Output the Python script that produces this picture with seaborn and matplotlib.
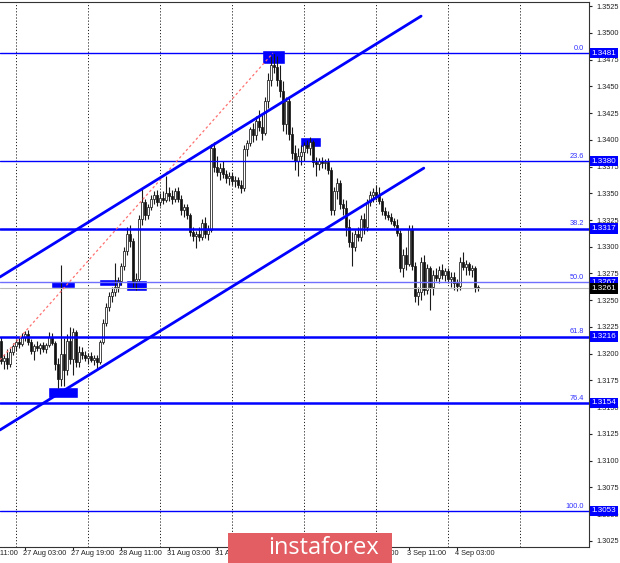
import matplotlib
matplotlib.use("Agg")
import matplotlib.pyplot as plt
import seaborn as sns
import numpy as np
import pandas as pd
from matplotlib.patches import Rectangle

# hourly bars, bar 0 = 26 Aug 19:00
bar_open = [
    1.3212, 1.3193, 1.3196, 1.3190, 1.3202, 1.3207, 1.3211, 1.3209, 1.3216, 1.3218,
    1.3211, 1.3203, 1.3207, 1.3205, 1.3208, 1.3204, 1.3208, 1.3216, 1.3210, 1.3190,
    1.3176, 1.3200, 1.3185, 1.3212, 1.3195, 1.3220, 1.3192, 1.3202, 1.3199, 1.3196,
    1.3198, 1.3194, 1.3196, 1.3192, 1.3211, 1.3229, 1.3244, 1.3254, 1.3258, 1.3262,
    1.3268, 1.3282, 1.3296, 1.3312, 1.3305, 1.3268, 1.3270, 1.3326, 1.3342, 1.3330,
    1.3337, 1.3345, 1.3348, 1.3342, 1.3346, 1.3344, 1.3350, 1.3347, 1.3345, 1.3352,
    1.3345, 1.3334, 1.3337, 1.3330, 1.3314, 1.3310, 1.3312, 1.3309, 1.3322, 1.3312,
    1.3316, 1.3392, 1.3375, 1.3370, 1.3374, 1.3368, 1.3364, 1.3366, 1.3361, 1.3362,
    1.3358, 1.3355, 1.3391, 1.3397, 1.3410, 1.3404, 1.3418, 1.3412, 1.3406, 1.3436,
    1.3456, 1.3470, 1.3468, 1.3456, 1.3446, 1.3415, 1.3436, 1.3405, 1.3388, 1.3380,
    1.3385, 1.3389, 1.3395, 1.3392, 1.3398, 1.3379, 1.3377, 1.3380, 1.3378, 1.3379,
    1.3372, 1.3334, 1.3352, 1.3360, 1.3340, 1.3336, 1.3318, 1.3304, 1.3300, 1.3312,
    1.3309, 1.3326, 1.3318, 1.3342, 1.3348, 1.3351, 1.3347, 1.3343, 1.3333, 1.3330,
    1.3328, 1.3324, 1.3320, 1.3313, 1.3280, 1.3292, 1.3284, 1.3317, 1.3282, 1.3254,
    1.3258, 1.3286, 1.3260, 1.3280, 1.3262, 1.3274, 1.3271, 1.3278, 1.3274, 1.3277,
    1.3270, 1.3272, 1.3266, 1.3263, 1.3286, 1.3281, 1.3284, 1.3278, 1.3280, 1.3262,
]
bar_high = [
    1.3216, 1.3200, 1.3204, 1.3205, 1.3210, 1.3214, 1.3215, 1.3219, 1.3221, 1.3222,
    1.3214, 1.3209, 1.3212, 1.3210, 1.3211, 1.3210, 1.3220, 1.3219, 1.3212, 1.3196,
    1.3283, 1.3215, 1.3218, 1.3225, 1.3224, 1.3222, 1.3207, 1.3206, 1.3203, 1.3201,
    1.3202, 1.3199, 1.3199, 1.3213, 1.3232, 1.3247, 1.3258, 1.3262, 1.3285, 1.3272,
    1.3285, 1.3300, 1.3318, 1.3320, 1.3308, 1.3275, 1.3330, 1.3355, 1.3345, 1.3340,
    1.3348, 1.3352, 1.3353, 1.3350, 1.3352, 1.3366, 1.3356, 1.3353, 1.3355, 1.3356,
    1.3348, 1.3340, 1.3340, 1.3332, 1.3318, 1.3315, 1.3318, 1.3326, 1.3328, 1.3320,
    1.3396, 1.3398, 1.3385, 1.3378, 1.3380, 1.3372, 1.3370, 1.3370, 1.3366, 1.3365,
    1.3362, 1.3395, 1.3400, 1.3412, 1.3416, 1.3422, 1.3428, 1.3425, 1.3440, 1.3462,
    1.3478, 1.3481, 1.3478, 1.3470, 1.3455, 1.3440, 1.3440, 1.3412, 1.3395, 1.3392,
    1.3395, 1.3398, 1.3400, 1.3403, 1.3400, 1.3384, 1.3383, 1.3384, 1.3382, 1.3383,
    1.3375, 1.3356, 1.3364, 1.3362, 1.3345, 1.3344, 1.3326, 1.3314, 1.3316, 1.3318,
    1.3330, 1.3332, 1.3345, 1.3352, 1.3355, 1.3358, 1.3356, 1.3346, 1.3337, 1.3333,
    1.3332, 1.3327, 1.3326, 1.3316, 1.3298, 1.3300, 1.3320, 1.3320, 1.3286, 1.3262,
    1.3290, 1.3292, 1.3284, 1.3282, 1.3278, 1.3280, 1.3282, 1.3284, 1.3280, 1.3280,
    1.3276, 1.3276, 1.3270, 1.3290, 1.3295, 1.3288, 1.3286, 1.3283, 1.3282, 1.3264,
]
bar_low = [
    1.3190, 1.3186, 1.3186, 1.3188, 1.3199, 1.3203, 1.3205, 1.3207, 1.3212, 1.3208,
    1.3200, 1.3194, 1.3203, 1.3200, 1.3202, 1.3201, 1.3206, 1.3208, 1.3185, 1.3168,
    1.3170, 1.3170, 1.3180, 1.3190, 1.3180, 1.3188, 1.3188, 1.3195, 1.3193, 1.3190,
    1.3192, 1.3189, 1.3186, 1.3190, 1.3209, 1.3226, 1.3240, 1.3248, 1.3254, 1.3258,
    1.3264, 1.3278, 1.3292, 1.3300, 1.3262, 1.3260, 1.3268, 1.3320, 1.3325, 1.3326,
    1.3334, 1.3340, 1.3338, 1.3338, 1.3340, 1.3342, 1.3343, 1.3340, 1.3342, 1.3342,
    1.3330, 1.3328, 1.3326, 1.3310, 1.3305, 1.3299, 1.3305, 1.3306, 1.3308, 1.3306,
    1.3314, 1.3370, 1.3366, 1.3362, 1.3364, 1.3360, 1.3358, 1.3358, 1.3356, 1.3355,
    1.3350, 1.3352, 1.3385, 1.3394, 1.3398, 1.3400, 1.3408, 1.3400, 1.3404, 1.3430,
    1.3450, 1.3462, 1.3450, 1.3440, 1.3408, 1.3405, 1.3400, 1.3382, 1.3372, 1.3366,
    1.3376, 1.3380, 1.3388, 1.3386, 1.3375, 1.3366, 1.3372, 1.3374, 1.3373, 1.3368,
    1.3330, 1.3330, 1.3345, 1.3335, 1.3330, 1.3310, 1.3300, 1.3282, 1.3296, 1.3305,
    1.3305, 1.3312, 1.3315, 1.3338, 1.3342, 1.3344, 1.3340, 1.3330, 1.3326, 1.3325,
    1.3321, 1.3318, 1.3310, 1.3276, 1.3272, 1.3278, 1.3282, 1.3278, 1.3248, 1.3246,
    1.3250, 1.3255, 1.3256, 1.3241, 1.3255, 1.3268, 1.3266, 1.3270, 1.3268, 1.3266,
    1.3262, 1.3260, 1.3259, 1.3260, 1.3278, 1.3274, 1.3274, 1.3272, 1.3258, 1.3259,
]
bar_close = [
    1.3193, 1.3196, 1.3190, 1.3202, 1.3207, 1.3211, 1.3209, 1.3216, 1.3218, 1.3211,
    1.3203, 1.3207, 1.3205, 1.3208, 1.3204, 1.3208, 1.3216, 1.3210, 1.3190, 1.3176,
    1.3200, 1.3185, 1.3212, 1.3195, 1.3220, 1.3192, 1.3202, 1.3199, 1.3196, 1.3198,
    1.3194, 1.3196, 1.3192, 1.3211, 1.3229, 1.3244, 1.3254, 1.3258, 1.3262, 1.3268,
    1.3282, 1.3296, 1.3312, 1.3305, 1.3268, 1.3270, 1.3326, 1.3342, 1.3330, 1.3337,
    1.3345, 1.3348, 1.3342, 1.3346, 1.3344, 1.3350, 1.3347, 1.3345, 1.3352, 1.3345,
    1.3334, 1.3337, 1.3330, 1.3314, 1.3310, 1.3312, 1.3309, 1.3322, 1.3312, 1.3316,
    1.3392, 1.3375, 1.3370, 1.3374, 1.3368, 1.3364, 1.3366, 1.3361, 1.3362, 1.3358,
    1.3355, 1.3391, 1.3397, 1.3410, 1.3404, 1.3418, 1.3412, 1.3406, 1.3436, 1.3456,
    1.3470, 1.3468, 1.3456, 1.3446, 1.3415, 1.3436, 1.3405, 1.3388, 1.3380, 1.3385,
    1.3389, 1.3395, 1.3392, 1.3398, 1.3379, 1.3377, 1.3380, 1.3378, 1.3379, 1.3372,
    1.3334, 1.3352, 1.3360, 1.3340, 1.3336, 1.3318, 1.3304, 1.3300, 1.3312, 1.3309,
    1.3326, 1.3318, 1.3342, 1.3348, 1.3351, 1.3347, 1.3343, 1.3333, 1.3330, 1.3328,
    1.3324, 1.3320, 1.3313, 1.3280, 1.3292, 1.3284, 1.3317, 1.3282, 1.3254, 1.3258,
    1.3286, 1.3260, 1.3280, 1.3262, 1.3274, 1.3271, 1.3278, 1.3274, 1.3277, 1.3270,
    1.3272, 1.3266, 1.3263, 1.3286, 1.3281, 1.3284, 1.3278, 1.3280, 1.3262, 1.3261,
]

# Fibonacci grid
fib_labels = ["0.0", "23.6", "38.2", "50.0", "61.8", "76.4", "100.0"]
fib_prices = [1.3481, 1.3380, 1.3317, 1.3267, 1.3216, 1.3154, 1.3053]
current_price = 1.3261

# channel lines (bar index, price)
upper_x = [-0.3, 140.1]
upper_y = [1.32717, 1.35156]
lower_x = [-0.3, 141.0]
lower_y = [1.31287, 1.33735]
fib_trend_x = [-0.3, 90.7]
fib_trend_y = [1.31941, 1.3481]

# blue marker boxes
marker_start = [87.1, 99.7, 16.7, 32.7, 41.7, 15.7]
marker_end = [94.7, 106.7, 24.7, 40.4, 48.7, 25.7]
marker_top = [1.3484, 1.3403, 1.3268, 1.3270, 1.3269, 1.3169]
marker_bottom = [1.3471, 1.3393, 1.3261, 1.3263, 1.3259, 1.3159]

# time axis
day_start_bars = [5, 29, 53, 77, 101, 125, 149, 173]
label_bars = [-8, 8, 24, 40, 56, 72, 88, 104, 120, 136, 152]
label_texts = ["26 Aug 11:00", "27 Aug 03:00", "27 Aug 19:00", "28 Aug 11:00",
               "31 Aug 03:00", "31 Aug 19:00", "1 Sep 11:00", "2 Sep 03:00",
               "2 Sep 19:00", "3 Sep 11:00", "4 Sep 03:00"]
price_ticks = [1.3025, 1.3050, 1.3075, 1.3100, 1.3125, 1.3150, 1.3175, 1.3200,
               1.3225, 1.3250, 1.3275, 1.3300, 1.3325, 1.3350, 1.3375, 1.3400,
               1.3425, 1.3450, 1.3475, 1.3500, 1.3525]

sns.set_style("white")
plt.rcParams['font.family'] = ['Liberation Sans Narrow', 'Liberation Sans', 'DejaVu Sans']

df = pd.DataFrame({"open": bar_open, "high": bar_high, "low": bar_low, "close": bar_close})
df["bar"] = np.arange(len(df))
df["up"] = df["close"] >= df["open"]

fig = plt.figure(figsize=(6.2, 5.63), dpi=100)
ax = fig.add_axes([0.0, 16 / 563, 589 / 620, 545 / 563])
ax.set_xlim(-0.27, 196.07)
ax.set_ylim(1.30193, 1.35288)

BLUE = "#0000FF"
TXT = 5.3

# day separators
for b in day_start_bars:
    ax.axvline(b, color="#222222", lw=0.7, ls=(0, (1.2, 2.0)), zorder=1)

# marker boxes behind the candles
ax.bar(marker_start, np.array(marker_top) - np.array(marker_bottom),
       width=np.array(marker_end) - np.array(marker_start),
       bottom=marker_bottom, align="edge", color=BLUE, zorder=2)

# candles
ax.vlines(df["bar"], df["low"], df["high"], color="#1a1a1a", lw=0.8, zorder=3)
body_low = df[["open", "close"]].min(axis=1)
body_h = (df["close"] - df["open"]).abs().clip(lower=0.00006)
ax.bar(df["bar"], body_h, bottom=body_low, width=0.8,
       color=np.where(df["up"], "white", "#111111"),
       edgecolor="#1a1a1a", linewidth=0.55, zorder=4)

# fib levels
fib_widths = [1.0, 1.0, 1.8, 1.0, 1.8, 1.8, 1.0]
fib_colors = [BLUE, BLUE, BLUE, "#7070FF", BLUE, BLUE, BLUE]
for lab, p, w, c in zip(fib_labels, fib_prices, fib_widths, fib_colors):
    ax.axhline(p, color=c, lw=w, zorder=5)
    ax.text(0.992, p + 0.00012, lab, transform=ax.get_yaxis_transform(),
            ha="right", va="bottom", fontsize=TXT, color="#3030FF", zorder=6)
ax.axhline(current_price, color="#BBBBBB", lw=0.8, zorder=5)

# trend lines
sns.lineplot(x=upper_x, y=upper_y, ax=ax, color=BLUE, lw=2, zorder=6)
sns.lineplot(x=lower_x, y=lower_y, ax=ax, color=BLUE, lw=2, zorder=6)
sns.lineplot(x=fib_trend_x, y=fib_trend_y, ax=ax, color="#FF7070", lw=0.9,
             ls=(0, (2, 2)), zorder=5)

# axes styling
ax.spines["left"].set_visible(False)
for side in ["top", "right", "bottom"]:
    ax.spines[side].set_color("#333333")
    ax.spines[side].set_linewidth(0.8)
ax.yaxis.tick_right()
ax.set_yticks(price_ticks)
ax.set_yticklabels([f"{p:.4f}" for p in price_ticks])
ax.tick_params(axis="y", labelsize=TXT, length=2.5, pad=2.5, colors="#222222", right=True)
ax.set_xticks([b for b in label_bars if b >= 0])
ax.set_xticklabels([])
ax.tick_params(axis="x", length=2.5, bottom=True, colors="#222222")
for b, t in zip(label_bars, label_texts):
    ax.text(b - 0.6, -0.006, t, transform=ax.get_xaxis_transform(),
            ha="left", va="top", fontsize=TXT, color="#222222", clip_on=False)

# price tags on the right axis
for p in fib_prices:
    ax.text(1.004, p, f"{p:.4f}", transform=ax.get_yaxis_transform(),
            ha="left", va="center", fontsize=5.8, color="white", zorder=10,
            bbox=dict(boxstyle="square,pad=0.22", fc=BLUE, ec="none"), clip_on=False)
ax.text(1.004, current_price, f"{current_price:.4f}", transform=ax.get_yaxis_transform(),
        ha="left", va="center", fontsize=5.8, color="white", zorder=10,
        bbox=dict(boxstyle="square,pad=0.22", fc="black", ec="none"), clip_on=False)
ax.set_xlabel("")
ax.set_ylabel("")

# watermark
fig.patches.append(Rectangle((228 / 620, 0), 164 / 620, 30 / 563, transform=fig.transFigure,
                             facecolor="#E25E63", edgecolor="none", zorder=20))
fig.text(324 / 620, 15 / 563, "instaforex", ha="center", va="center", fontsize=17,
         color="white", family=["Open Sans", "DejaVu Sans"], zorder=21)

fig.savefig("out.png", dpi=100)
